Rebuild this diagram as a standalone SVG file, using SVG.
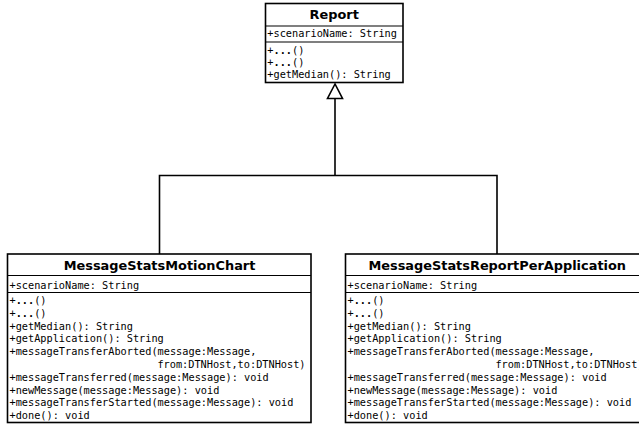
<svg xmlns="http://www.w3.org/2000/svg" width="639" height="425" viewBox="0 0 639 425">
<style>
.box{fill:#fff;stroke:#000;stroke-width:1.6}
.div{stroke:#000;stroke-width:1.1;fill:none}
.title{font-family:"DejaVu Sans",sans-serif;font-weight:bold;font-size:12.9px;text-anchor:middle;fill:#000}
.m{font-family:"DejaVu Sans Mono",monospace;font-size:10.25px;fill:#000}
.b{font-weight:bold}
.conn{stroke:#000;stroke-width:1.6;fill:none}
</style>
<rect width="639" height="425" fill="#fff"/>
<g id="connectors">
<polyline class="conn" points="159.5,254 159.5,175.5 497,175.5 497,254"/>
<line class="conn" x1="335" y1="175.5" x2="335" y2="98.5"/>
<polygon points="335,84 327.5,98.5 342.5,98.5" fill="#fff" stroke="#000" stroke-width="1.6"/>
</g>
<g id="Report">
<rect class="box" x="265.5" y="3.5" width="137.5" height="79"/>
<line class="div" x1="265.5" y1="26" x2="403" y2="26"/>
<line class="div" x1="265.5" y1="42" x2="403" y2="42"/>
<text class="title" x="334.2" y="19.4">Report</text>
<text class="m" x="267.3" y="37">+scenarioName: String</text>
<text class="m" x="267.3" y="53.8">+<tspan class="b">...</tspan>()</text>
<text class="m" x="267.3" y="65.8">+<tspan class="b">...</tspan>()</text>
<text class="m" x="267.3" y="77.8">+getMedian(): String</text>
</g>
<g id="MessageStatsMotionChart">
<rect class="box" x="7.5" y="254" width="303.5" height="168.5"/>
<line class="div" x1="7.5" y1="275.5" x2="311" y2="275.5"/>
<line class="div" x1="7.5" y1="292.5" x2="311" y2="292.5"/>
<text class="title" x="159.5" y="270">MessageStatsMotionChart</text>
<text class="m" x="9.5" y="288.5">+scenarioName: String</text>
<text class="m" x="9.5" y="304">+<tspan class="b">...</tspan>()</text>
<text class="m" x="9.5" y="316.8">+<tspan class="b">...</tspan>()</text>
<text class="m" x="9.5" y="329.6">+getMedian(): String</text>
<text class="m" x="9.5" y="342.4">+getApplication(): String</text>
<text class="m" x="9.5" y="355.2">+messageTransferAborted(message:Message,</text>
<text class="m" x="157.4" y="368">from:DTNHost,to:DTNHost)</text>
<text class="m" x="9.5" y="380.8">+messageTransferred(message:Message): void</text>
<text class="m" x="9.5" y="393.6">+newMessage(message:Message): void</text>
<text class="m" x="9.5" y="406.4">+messageTransferStarted(message:Message): void</text>
<text class="m" x="9.5" y="419.2">+done(): void</text>
</g>
<g id="MessageStatsReportPerApplication">
<rect class="box" x="345.5" y="254" width="303.5" height="168.5"/>
<line class="div" x1="345.5" y1="275.5" x2="649" y2="275.5"/>
<line class="div" x1="345.5" y1="292.5" x2="649" y2="292.5"/>
<text class="title" x="497.2" y="270">MessageStatsReportPerApplication</text>
<text class="m" x="347.5" y="288.5">+scenarioName: String</text>
<text class="m" x="347.5" y="304">+<tspan class="b">...</tspan>()</text>
<text class="m" x="347.5" y="316.8">+<tspan class="b">...</tspan>()</text>
<text class="m" x="347.5" y="329.6">+getMedian(): String</text>
<text class="m" x="347.5" y="342.4">+getApplication(): String</text>
<text class="m" x="347.5" y="355.2">+messageTransferAborted(message:Message,</text>
<text class="m" x="495.4" y="368">from:DTNHost,to:DTNHost)</text>
<text class="m" x="347.5" y="380.8">+messageTransferred(message:Message): void</text>
<text class="m" x="347.5" y="393.6">+newMessage(message:Message): void</text>
<text class="m" x="347.5" y="406.4">+messageTransferStarted(message:Message): void</text>
<text class="m" x="347.5" y="419.2">+done(): void</text>
</g>
</svg>
